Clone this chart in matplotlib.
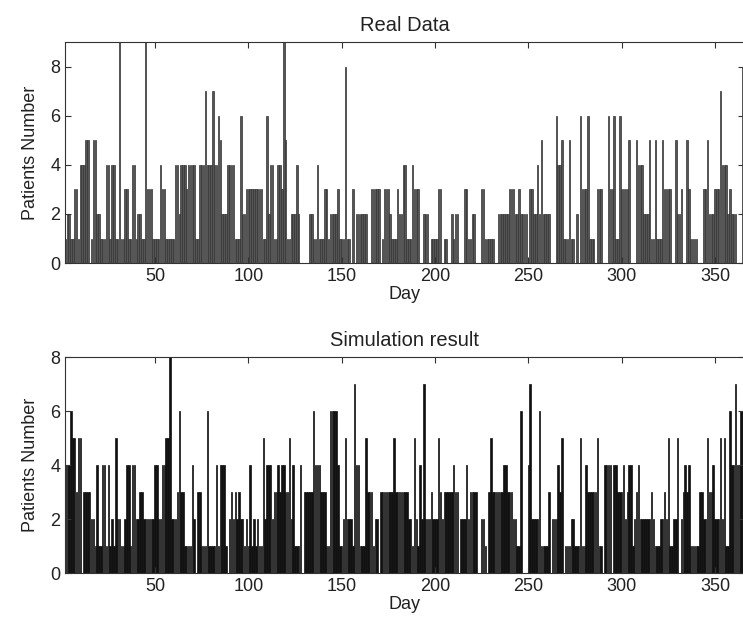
import matplotlib
matplotlib.use("Agg")
import matplotlib.pyplot as plt
import numpy as np

plt.rcParams['font.family'] = ['Liberation Sans', 'DejaVu Sans']

# real data, patients per day
real_1_60 = [0, 1, 2, 2, 1, 1, 3, 3, 1, 4,
             4, 4, 5, 5, 0, 1, 5, 5, 2, 2,
             1, 1, 1, 4, 4, 1, 4, 4, 1, 1,
             9, 1, 1, 3, 3, 1, 1, 4, 4, 1,
             2, 2, 1, 1, 9, 3, 3, 3, 1, 1,
             1, 1, 4, 3, 3, 1, 1, 1, 1, 1]
real_61_120 = [4, 4, 2, 4, 4, 4, 3, 4, 4, 4,
               4, 1, 1, 4, 4, 4, 7, 4, 4, 4,
               7, 4, 4, 6, 5, 2, 2, 2, 4, 4,
               4, 4, 1, 1, 1, 6, 2, 2, 3, 3,
               3, 3, 3, 3, 3, 3, 3, 1, 1, 6,
               2, 4, 4, 1, 1, 4, 4, 3, 9, 5]
real_121_185 = [1, 1, 2, 2, 2, 4, 2, 0, 0, 0,
                0, 0, 2, 2, 1, 1, 4, 1, 1, 1,
                3, 3, 1, 2, 2, 2, 2, 3, 1, 1,
                1, 8, 1, 1, 0, 3, 0, 2, 2, 2,
                2, 2, 2, 0, 0, 3, 3, 3, 3, 3,
                0, 1, 3, 3, 3, 2, 1, 1, 1, 3,
                2, 2, 4, 4, 1]
real_186_249 = [1, 1, 4, 3, 3, 3, 0, 0, 2, 2,
                2, 0, 1, 1, 1, 1, 3, 3, 0, 1,
                1, 0, 0, 2, 1, 2, 2, 0, 0, 0,
                3, 3, 1, 1, 2, 2, 0, 0, 0, 3,
                3, 1, 1, 1, 1, 1, 0, 0, 2, 2,
                2, 2, 2, 2, 3, 3, 3, 2, 2, 3,
                2, 2, 2, 2]
real_250_310 = [0, 3, 3, 2, 2, 4, 2, 5, 2, 2,
                2, 2, 0, 0, 0, 6, 4, 4, 5, 1,
                1, 1, 5, 1, 1, 0, 2, 0, 6, 3,
                3, 3, 6, 1, 1, 1, 0, 3, 3, 3,
                0, 0, 0, 6, 3, 3, 6, 1, 1, 6,
                3, 3, 3, 3, 5, 0, 0, 0, 5, 4,
                4]
real_311_365 = [4, 2, 2, 2, 5, 1, 1, 5, 1, 1,
                1, 5, 3, 3, 3, 3, 0, 0, 5, 2,
                2, 3, 0, 0, 5, 3, 1, 1, 1, 1,
                0, 0, 0, 3, 3, 5, 2, 2, 2, 3,
                3, 3, 7, 4, 4, 4, 2, 3, 2, 2,
                2, 0, 0, 0, 8]

# simulation result
sim_1_60 = [1, 4, 4, 4, 6, 5, 5, 3, 5, 5,
            0, 3, 3, 3, 3, 2, 2, 1, 4, 1,
            1, 4, 4, 1, 4, 1, 2, 1, 5, 2,
            2, 1, 1, 2, 4, 4, 1, 4, 4, 2,
            2, 3, 3, 2, 2, 2, 2, 2, 2, 4,
            4, 2, 2, 4, 4, 5, 5, 8, 2, 2]
sim_61_122 = [2, 3, 6, 3, 3, 1, 1, 1, 1, 4,
              2, 0, 3, 3, 1, 1, 1, 6, 1, 1,
              1, 1, 4, 1, 4, 4, 4, 1, 0, 2,
              3, 2, 3, 2, 3, 2, 2, 1, 2, 1,
              4, 1, 2, 1, 2, 1, 1, 5, 2, 4,
              4, 4, 2, 3, 3, 4, 3, 4, 4, 3,
              3, 5]
sim_123_185 = [2, 4, 1, 1, 1, 4, 0, 3,
               3, 3, 3, 3, 6, 4, 4, 4, 3, 3,
               3, 1, 1, 6, 6, 6, 6, 4, 1, 1,
               2, 5, 2, 2, 2, 1, 7, 4, 4, 1,
               1, 1, 5, 3, 3, 3, 1, 2, 2, 0,
               3, 3, 3, 3, 3, 3, 3, 5, 3, 3,
               3, 3, 3, 3, 3]
sim_186_247 = [2, 2, 1, 5, 2, 1, 4, 2, 7, 2,
               2, 2, 3, 2, 2, 2, 5, 3, 2, 3,
               3, 3, 3, 3, 4, 3, 3, 0, 2, 2,
               2, 4, 2, 3, 3, 3, 3, 0, 0, 2,
               2, 1, 0, 3, 5, 3, 3, 3, 3, 3,
               3, 4, 4, 3, 3, 3, 2, 2, 1, 1,
               6, 0]
sim_248_310 = [0, 0, 4, 7, 2, 2, 2, 2, 6, 1,
               1, 1, 1, 3, 0, 2, 2, 2, 4, 3,
               5, 0, 1, 1, 1, 2, 2, 1, 1, 1,
               5, 1, 1, 4, 3, 3, 3, 3, 3, 5,
               1, 1, 0, 4, 4, 4, 4, 0, 4, 4,
               3, 3, 3, 4, 2, 3, 4, 4, 1, 2,
               3, 4, 2]
sim_311_365 = [2, 2, 2, 2, 2, 3, 2, 1, 1, 1,
               2, 2, 3, 2, 5, 1, 1, 2, 2, 5,
               0, 2, 3, 4, 3, 4, 1, 1, 1, 1,
               1, 3, 3, 2, 2, 5, 3, 3, 4, 2,
               2, 2, 5, 2, 5, 1, 1, 6, 4, 4,
               7, 4, 4, 6, 6]

real = real_1_60 + real_61_120 + real_121_185 + real_186_249 + real_250_310 + real_311_365
sim = sim_1_60 + sim_61_122 + sim_123_185 + sim_186_247 + sim_248_310 + sim_311_365
days = np.arange(1, len(real) + 1)

fig = plt.figure(figsize=(7.43, 6.34), dpi=100)
ax1 = fig.add_axes([0.0875, 0.585, 0.914, 0.3486])
ax2 = fig.add_axes([0.0875, 0.0962, 0.914, 0.3407])

ax1.bar(days, real, width=0.8, color="#555555", edgecolor="#333333", linewidth=0.5)
ax2.bar(days, sim, width=0.8, color="#111111", edgecolor="#111111", linewidth=0.5)

for ax, title, ymax in [(ax1, "Real Data", 9), (ax2, "Simulation result", 8)]:
    ax.set_xlim(1.8, 365.6)
    ax.set_ylim(0, ymax)
    ax.set_xticks([50, 100, 150, 200, 250, 300, 350])
    ax.set_yticks([0, 2, 4, 6, 8])
    ax.tick_params(direction="in", top=True, right=True, labelsize=13, length=4,
                   color="#333333", labelcolor="#222222")
    for s in ax.spines.values():
        s.set_color("#333333")
    ax.set_title(title, fontsize=14.5, pad=8, color="#222222")
    ax.set_xlabel("Day", fontsize=13, labelpad=1, color="#222222")
    ax.set_ylabel("Patients Number", fontsize=13, labelpad=8, color="#222222")

fig.savefig("out.png", dpi=100)
